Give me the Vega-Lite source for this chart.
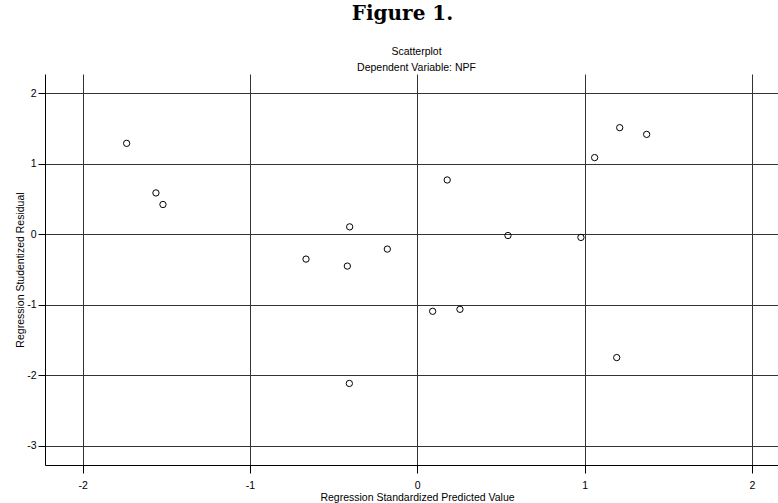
{
  "$schema": "https://vega.github.io/schema/vega-lite/v6.json",
  "autosize": {"type": "none"},
  "padding": {"left": 45, "top": 74, "right": 0, "bottom": 38},
  "width": 733,
  "height": 391,
  "background": "white",
  "title": {
    "text": "Figure 1.",
    "font": "DejaVu Serif",
    "fontSize": 20,
    "fontWeight": "bold",
    "color": "black",
    "offset": 22,
    "anchor": "middle",
    "dx": -9
  },
  "data": {
    "values": [
      {"predicted": -1.737, "residual": 1.287},
      {"predicted": -1.562, "residual": 0.584},
      {"predicted": -1.520, "residual": 0.420},
      {"predicted": 0.179, "residual": 0.768},
      {"predicted": -0.404, "residual": 0.103},
      {"predicted": 0.542, "residual": -0.020},
      {"predicted": -0.179, "residual": -0.212},
      {"predicted": -0.665, "residual": -0.354},
      {"predicted": -0.418, "residual": -0.453},
      {"predicted": 0.092, "residual": -1.094},
      {"predicted": 0.255, "residual": -1.066},
      {"predicted": -0.406, "residual": -2.117},
      {"predicted": 1.210, "residual": 1.509},
      {"predicted": 1.371, "residual": 1.414},
      {"predicted": 1.060, "residual": 1.085},
      {"predicted": 0.978, "residual": -0.047},
      {"predicted": 1.192, "residual": -1.750}
    ]
  },
  "layer": [
    {
      "mark": {"type": "point", "shape": "circle", "filled": false, "color": "black", "strokeWidth": 1, "size": 40, "opacity": 1},
      "encoding": {
        "x": {
          "field": "predicted",
          "type": "quantitative",
          "scale": {"domain": [-2.225, 2.156], "nice": false, "zero": false},
          "axis": {
            "orient": "bottom",
            "title": "Regression Standardized Predicted Value",
            "values": [-2, -1, 0, 1, 2],
            "labelExpr": "'' + datum.value",
            "tickSize": 8,
            "labelPadding": 7,
            "titleX": 372,
            "titleY": 37,
            "titleBaseline": "bottom"
          }
        },
        "y": {
          "field": "residual",
          "type": "quantitative",
          "scale": {"domain": [-3.273, 2.27], "nice": false, "zero": false},
          "axis": {
            "title": "Regression Studentized Residual",
            "values": [-3, -2, -1, 0, 1, 2],
            "labelExpr": "'' + datum.value",
            "tickSize": 7,
            "labelPadding": 2,
            "titleX": -20,
            "titleBaseline": "bottom"
          }
        }
      }
    },
    {
      "mark": {"type": "point", "shape": "circle", "filled": false, "color": "black", "size": 40, "opacity": 0},
      "encoding": {
        "x": {
          "field": "predicted",
          "type": "quantitative",
          "scale": {"domain": [-2.225, 2.156], "nice": false, "zero": false},
          "axis": {
            "orient": "top",
            "title": ["Scatterplot", "Dependent Variable: NPF"],
            "grid": false,
            "domain": false,
            "ticks": false,
            "labels": false,
            "titleX": 371,
            "titleY": -28,
            "titleBaseline": "top",
            "titleLineHeight": 16
          }
        },
        "y": {
          "field": "residual",
          "type": "quantitative",
          "scale": {"domain": [-3.273, 2.27], "nice": false, "zero": false}
        }
      }
    }
  ],
  "resolve": {"axis": {"x": "independent"}},
  "config": {
    "view": {"stroke": null},
    "axis": {
      "domainColor": "black",
      "domainWidth": 1,
      "tickColor": "black",
      "tickWidth": 1,
      "grid": true,
      "gridColor": "#333333",
      "gridWidth": 1,
      "gridOpacity": 1,
      "labelFont": "Liberation Sans",
      "labelFontSize": 10.5,
      "labelColor": "black",
      "titleFont": "Liberation Sans",
      "titleFontSize": 10.5,
      "titleFontWeight": "normal",
      "titleColor": "black"
    }
  }
}
